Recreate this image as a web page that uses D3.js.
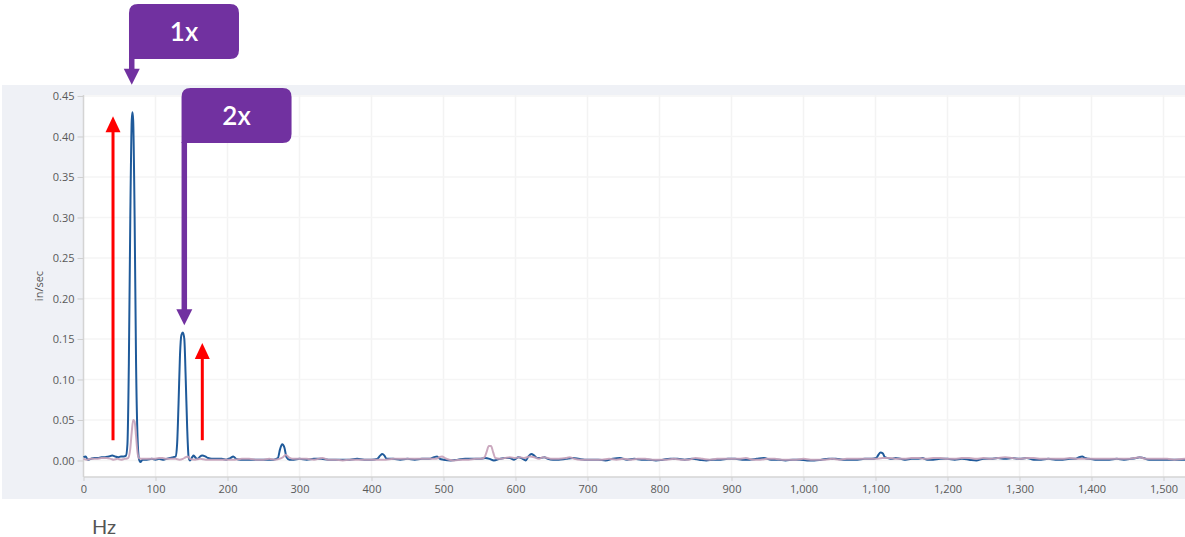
<!DOCTYPE html>
<html>
<head>
    <meta charset="utf-8">
    <title>Velocity spectrum</title>
    <script src="https://d3js.org/d3.v7.min.js"></script>
    <style>
        html, body { margin: 0; padding: 0; background: #fff; }
        svg { display: block; }
    </style>
</head>
<body>
    <div id="chart"></div>

    <script>
        // spectrum readings, [Hz, in/sec]
        const blueSpectrum = [
            [0,0.004],[3,0.005],[6,0.001],[10,0.002],[15,0.003],[20,0.003],[25,0.004],[30,0.004],[35,0.005],[40,0.006],
            [44,0.005],[48,0.004],[52,0.005],[56,0.005],[59,0.006],[61,0.02],[63,0.12],[65,0.30],[67,0.42],[68,0.43],
            [69,0.42],[71,0.30],[73,0.12],[75,0.03],[77,0.002],[79,-0.002],[82,0.001],[88,0.001],[95,0.002],[100,0.001],
            [105,0.002],[110,0.001],[115,0.002],[120,0.003],[125,0.004],[128,0.005],[130,0.02],[132,0.07],[134,0.13],[136,0.155],
            [138,0.158],[140,0.15],[142,0.10],[144,0.04],[146,0.004],[148,0.000],[151,0.004],[153,0.006],[156,0.003],[159,0.002],
            [162,0.005],[165,0.006],[169,0.005],[173,0.003],[178,0.002],[185,0.002],[192,0.002],[198,0.001],[204,0.003],[208,0.005],
            [212,0.002],[218,0.001],[225,0.001],[232,0.001],[240,0.001],[248,0.001],[256,0.001],[264,0.001],[270,0.003],[273,0.014],
            [276,0.020],[279,0.016],[282,0.004],[286,0.001],[292,0.001],[300,0.002],[310,0.001],[320,0.002],[330,0.002],[340,0.001],
            [350,0.001],[360,0.001],[370,0.001],[380,0.002],[390,0.001],[400,0.001],[408,0.002],[412,0.006],[415,0.008],[418,0.006],
            [421,0.002],[430,0.002],[440,0.001],[450,0.002],[460,0.001],[470,0.002],[480,0.002],[487,0.004],[491,0.005],[495,0.002],
            [500,0.001],[510,0.000],[520,0.001],[530,0.002],[540,0.002],[550,0.002],[558,0.003],[564,0.002],[570,0.000],[578,0.002],
            [585,0.003],[592,0.003],[598,0.001],[604,0.004],[610,0.002],[614,0.000],[618,0.005],[622,0.008],[626,0.006],[630,0.003],
            [635,0.003],[640,0.004],[645,0.002],[652,0.001],[660,0.001],[670,0.002],[680,0.003],[688,0.002],[696,0.001],[705,0.001],
            [715,0.001],[725,0.000],[735,0.002],[745,0.003],[755,0.001],[765,0.002],[775,0.001],[785,0.001],[795,0.000],[805,0.001],
            [815,0.002],[825,0.002],[835,0.001],[845,0.002],[855,0.001],[865,0.000],[875,0.001],[885,0.001],[895,0.002],[905,0.002],
            [915,0.001],[925,0.001],[935,0.002],[945,0.003],[955,0.001],[965,0.001],[975,0.000],[985,0.001],[995,0.001],[1005,0.000],
            [1015,0.000],[1025,0.001],[1035,0.002],[1045,0.002],[1055,0.001],[1065,0.001],[1075,0.001],[1085,0.002],[1095,0.002],[1101,0.003],
            [1104,0.007],[1107,0.010],[1110,0.009],[1113,0.004],[1117,0.003],[1122,0.002],[1128,0.003],[1135,0.002],[1142,0.001],[1150,0.002],
            [1158,0.002],[1165,0.003],[1172,0.001],[1180,0.001],[1190,0.002],[1200,0.002],[1210,0.001],[1220,0.002],[1230,0.001],[1240,0.000],
            [1250,0.002],[1260,0.002],[1270,0.003],[1280,0.002],[1290,0.003],[1300,0.002],[1310,0.003],[1320,0.001],[1330,0.001],[1340,0.002],
            [1350,0.001],[1360,0.001],[1370,0.002],[1378,0.002],[1383,0.004],[1387,0.005],[1391,0.003],[1396,0.002],[1405,0.001],[1415,0.001],
            [1425,0.001],[1435,0.002],[1445,0.001],[1455,0.002],[1462,0.003],[1467,0.004],[1472,0.003],[1480,0.001],[1490,0.001],[1500,0.001],
            [1510,0.001],[1520,0.001],[1530,0.001]
        ];

        const pinkSpectrum = [
            [0,0.002],[5,0.001],[10,0.002],[18,0.002],[25,0.003],[32,0.003],[38,0.002],[42,0.001],[47,0.002],[52,0.001],
            [57,0.002],[62,0.003],[65,0.015],[67,0.035],[69,0.050],[71,0.048],[73,0.03],[75,0.01],[77,0.003],[82,0.002],
            [90,0.002],[98,0.002],[105,0.003],[110,0.003],[115,0.002],[122,0.002],[128,0.002],[133,0.001],[138,0.002],[142,0.004],
            [145,0.005],[148,0.002],[155,0.001],[162,0.002],[170,0.001],[180,0.001],[190,0.001],[200,0.001],[210,0.001],[220,0.002],
            [230,0.002],[240,0.001],[250,0.001],[258,0.002],[265,0.001],[272,0.002],[277,0.004],[281,0.007],[285,0.004],[290,0.002],
            [300,0.002],[310,0.002],[320,0.001],[332,0.003],[340,0.001],[350,0.001],[360,0.000],[370,0.001],[380,0.001],[390,0.001],
            [400,0.001],[410,0.001],[420,0.001],[430,0.002],[440,0.002],[450,0.002],[460,0.002],[470,0.002],[480,0.002],[490,0.002],
            [494,0.004],[498,0.005],[502,0.003],[508,0.001],[515,0.000],[525,0.001],[535,0.001],[545,0.002],[552,0.002],[557,0.004],
            [560,0.011],[563,0.018],[566,0.018],[569,0.010],[572,0.003],[578,0.002],[585,0.003],[592,0.004],[600,0.003],[606,0.004],
            [612,0.003],[620,0.005],[626,0.004],[632,0.002],[638,0.004],[645,0.003],[650,0.002],[660,0.002],[670,0.003],[675,0.004],
            [682,0.002],[690,0.001],[700,0.001],[710,0.001],[720,0.001],[730,0.002],[740,0.001],[750,0.002],[760,0.001],[770,0.002],
            [780,0.002],[790,0.001],[800,0.001],[810,0.001],[820,0.002],[830,0.001],[840,0.001],[850,0.003],[860,0.002],[870,0.001],
            [880,0.002],[890,0.002],[900,0.002],[910,0.002],[920,0.003],[930,0.001],[940,0.001],[950,0.002],[960,0.002],[970,0.001],
            [980,0.001],[990,0.001],[1000,0.002],[1010,0.001],[1020,0.001],[1030,0.001],[1040,0.002],[1050,0.001],[1060,0.002],[1070,0.002],
            [1080,0.002],[1090,0.002],[1100,0.002],[1110,0.003],[1120,0.003],[1130,0.002],[1140,0.002],[1150,0.003],[1160,0.003],[1170,0.002],
            [1180,0.003],[1190,0.003],[1200,0.002],[1210,0.002],[1220,0.003],[1230,0.003],[1240,0.002],[1250,0.003],[1260,0.002],[1270,0.003],
            [1280,0.004],[1290,0.003],[1300,0.002],[1310,0.003],[1320,0.003],[1330,0.002],[1340,0.002],[1350,0.002],[1360,0.002],[1370,0.003],
            [1380,0.002],[1390,0.002],[1400,0.002],[1410,0.002],[1420,0.002],[1430,0.002],[1440,0.002],[1450,0.002],[1460,0.003],[1467,0.004],
            [1475,0.002],[1485,0.002],[1495,0.002],[1505,0.002],[1515,0.001],[1530,0.002]
        ];

        const xTicks = d3.range(0, 1501, 100);
        const yTicks = [0, 0.05, 0.10, 0.15, 0.20, 0.25, 0.30, 0.35, 0.40, 0.45];

        // harmonic callouts [label, Hz, in/sec at arrow tip]
        const callouts = [["1x", 67, 0.464], ["2x", 140, 0.167]];
        // red rise arrows [Hz, from, to]
        const riseArrows = [[41, 0.025, 0.425], [165, 0.025, 0.145]];

        const width = 1185, height = 537;

        const svg = d3.select("#chart").append("svg")
            .attr("width", width)
            .attr("height", height);

        // gray panel and white plot area
        const plot = { left: 84, right: 1185, top: 95, bottom: 477 };
        svg.append("rect").attr("x", 2).attr("y", 85)
            .attr("width", width - 2).attr("height", 414).attr("fill", "#eff1f6");
        svg.append("rect").attr("x", plot.left).attr("y", plot.top)
            .attr("width", plot.right - plot.left).attr("height", plot.bottom - plot.top).attr("fill", "#fff");

        const x = d3.scaleLinear().domain([0, 1530]).range([83.5, 1185.1]);
        const y = d3.scaleLinear().domain([-0.0204, 0.4512]).range([477, 95]);

        // grid
        const grid = svg.append("g");
        grid.selectAll(".vg").data(xTicks.slice(1)).join("line")
            .attr("x1", d => x(d)).attr("x2", d => x(d))
            .attr("y1", plot.top).attr("y2", plot.bottom)
            .attr("stroke", "#f3f3f3").attr("stroke-width", 1.5);
        grid.selectAll(".hg").data(yTicks).join("line")
            .attr("x1", plot.left).attr("x2", plot.right)
            .attr("y1", d => y(d)).attr("y2", d => y(d))
            .attr("stroke", "#f5f5f5").attr("stroke-width", 1.5);

        // axes
        const xAxis = svg.append("g")
            .attr("transform", `translate(0,${plot.bottom})`)
            .call(d3.axisBottom(x).tickValues(xTicks).tickSize(4).tickPadding(4).tickFormat(d3.format(",")));
        const yAxis = svg.append("g")
            .attr("transform", "translate(83.5,0)")
            .call(d3.axisLeft(y).tickValues(yTicks).tickSize(6).tickPadding(3).tickFormat(d3.format(".2f")));

        [xAxis, yAxis].forEach(a => {
            a.select(".domain").attr("stroke", "#d4d4d4").attr("stroke-width", 1.5);
            a.selectAll(".tick line").attr("stroke", "#cfcfcf");
            a.selectAll(".tick text")
                .attr("fill", "#595959")
                .style("font-family", "'Open Sans', sans-serif")
                .style("font-size", "11px");
        });
        yAxis.select(".domain").attr("d", `M0,${plot.top}V${plot.bottom}`);
        xAxis.select(".domain").attr("d", `M${plot.left},0H${plot.right}`);

        svg.append("text")
            .attr("transform", "translate(43,286) rotate(-90)")
            .attr("text-anchor", "middle")
            .attr("fill", "#555")
            .style("font-family", "'Open Sans', sans-serif")
            .style("font-size", "11px")
            .text("in/sec");

        svg.append("text")
            .attr("x", 92).attr("y", 534)
            .attr("fill", "#555")
            .style("font-family", "Lato, sans-serif")
            .style("font-size", "20px")
            .text("Hz");

        // spectrum lines
        const line = d3.line()
            .x(d => x(d[0]))
            .y(d => y(d[1]))
            .curve(d3.curveMonotoneX);

        svg.append("path").datum(blueSpectrum)
            .attr("d", line)
            .attr("fill", "none")
            .attr("stroke", "#1f5a9a")
            .attr("stroke-width", 2);

        svg.append("path").datum(pinkSpectrum)
            .attr("d", line)
            .attr("fill", "none")
            .attr("stroke", "#c5a0b8")
            .attr("stroke-opacity", 0.9)
            .attr("stroke-width", 2);

        // red arrows
        const red = svg.append("g");
        riseArrows.forEach(([hz, v0, v1]) => {
            const ax = x(hz), yTip = y(v1), yBase = y(v0);
            red.append("line")
                .attr("x1", ax).attr("x2", ax)
                .attr("y1", yBase).attr("y2", yTip + 14)
                .attr("stroke", "#ff0000").attr("stroke-width", 3);
            red.append("path")
                .attr("d", `M${ax},${yTip}L${ax - 7.5},${yTip + 16}L${ax + 7.5},${yTip + 16}Z`)
                .attr("fill", "#ff0000");
        });

        // purple callouts
        const purple = "#7131a0";
        const boxW = 110, boxH = 55, r = 9, stemW = 5.5;
        const boxTops = { "1x": 4, "2x": 88 };
        callouts.forEach(([label, hz, v]) => {
            const cx = x(hz), tipY = y(v);
            const bx = cx - stemW / 2, by = boxTops[label];
            const g = svg.append("g");
            g.append("path")
                .attr("d", `M${bx},${by + boxH}V${by + r}Q${bx},${by} ${bx + r},${by}` +
                    `H${bx + boxW - r}Q${bx + boxW},${by} ${bx + boxW},${by + r}` +
                    `V${by + boxH - r}Q${bx + boxW},${by + boxH} ${bx + boxW - r},${by + boxH}Z`)
                .attr("fill", purple);
            g.append("rect")
                .attr("x", bx).attr("y", by + boxH - 1)
                .attr("width", stemW).attr("height", tipY - 15 - (by + boxH - 1))
                .attr("fill", purple);
            g.append("path")
                .attr("d", `M${cx},${tipY}L${cx - 8},${tipY - 16}L${cx + 8},${tipY - 16}Z`)
                .attr("fill", purple);
            g.append("text")
                .attr("x", bx + boxW / 2).attr("y", by + boxH / 2 + 9)
                .attr("text-anchor", "middle")
                .attr("fill", "#fff")
                .style("font-family", "Lato, sans-serif")
                .style("font-weight", "600")
                .style("font-size", "26px")
                .text(label);
        });
    </script>
</body>
</html>
